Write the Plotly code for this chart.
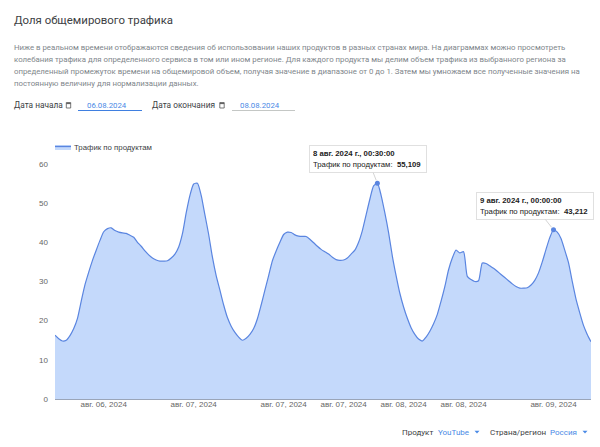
import pandas as pd
import plotly.graph_objects as go

START = "2024-08-06 05:30"
traffic = [
    16.3, 15.4, 14.8, 15.0, 16.2, 18.0, 20.6, 25.0, 29.2, 32.4, 35.4, 38.0, 40.5, 42.7, 43.5, 43.7,
    43.0, 42.6, 42.4, 42.3, 41.8, 41.3, 40.0, 39.0, 37.8, 36.8, 36.0, 35.5, 35.2, 35.2, 35.3, 36.0,
    37.0, 38.8, 42.2, 47.5, 52.0, 54.9, 55.1, 52.0, 47.0, 42.0, 36.2, 31.5, 27.8, 24.0, 20.8, 18.6,
    17.0, 15.8, 15.0, 15.5, 16.5, 18.0, 20.5, 24.0, 27.8, 31.5, 35.3, 37.8, 40.0, 42.0, 42.6, 42.5,
    41.9, 41.6, 41.5, 41.5, 40.8, 39.9, 39.0, 38.2, 37.6, 37.0, 36.2, 35.6, 35.4, 35.5, 36.0, 37.0,
    38.0, 40.0, 43.0, 47.0, 51.0, 54.4, 55.109, 52.0, 47.5, 42.5, 36.5, 31.5, 27.0, 23.5, 20.6, 18.2,
    16.5, 15.3, 14.8, 15.8, 17.3, 19.2, 21.6, 25.0, 28.7, 33.0, 36.0, 38.0, 37.3, 37.6, 31.3, 30.5,
    30.0, 30.2, 34.7, 34.6, 34.0, 33.4, 32.6, 31.8, 31.0, 30.2, 29.4, 28.7, 28.3, 28.3, 28.4, 29.1,
    30.3, 32.2, 35.0, 38.2, 41.2, 43.212, 42.6, 41.0, 38.0, 34.8, 30.0, 25.5, 22.0, 18.8, 16.5, 14.6,
]
times = pd.date_range(START, periods=len(traffic), freq="30min")

tick_times = ["2024-08-06 12:00", "2024-08-07 00:00", "2024-08-07 12:00", "2024-08-07 20:00",
              "2024-08-08 04:00", "2024-08-08 12:00", "2024-08-09 00:00"]
tick_labels = ["авг. 06, 2024", "авг. 07, 2024", "авг. 07, 2024", "авг. 07, 2024",
               "авг. 08, 2024", "авг. 08, 2024", "авг. 09, 2024"]
y_ticks = [0, 10, 20, 30, 40, 50, 60]
series_name = "Трафик по продуктам"
highlight_idx = [86, 133]
highlight_titles = ["8 авг. 2024 г., 00:30:00", "9 авг. 2024 г., 00:00:00"]
highlight_offsets = [(-9.5, -24), (-19, -24)]

title = "Доля общемирового трафика"
body_lines = [
    "Ниже в реальном времени отображаются сведения об использовании наших продуктов в разных странах мира. На диаграммах можно просмотреть",
    "колебания трафика для определенного сервиса в том или ином регионе. Для каждого продукта мы делим объем трафика из выбранного региона за",
    "определенный промежуток времени на общемировой объем, получая значение в диапазоне от 0 до 1. Затем мы умножаем все полученные значения на",
    "постоянную величину для нормализации данных.",
]

W, H = 600, 447
L, R, T, B = 55, 591, 164, 399
LINE = "#5a85e0"
FILL = "#c4d9fb"
BLUE = "#4a8ae6"
DARK = "#3c4043"
GRAY = "#80868b"
ROBOTO = "Roboto, sans-serif"
ARIAL = "Liberation Sans, Arial, sans-serif"


def px(X):
    return (X - L) / (R - L)


def py(Y):
    return (B - Y) / (B - T)


fig = go.Figure()
fig.add_trace(go.Scatter(x=times, y=traffic, mode="lines", fill="tozeroy", fillcolor=FILL,
                         line=dict(color=LINE, width=1.2, shape="spline", smoothing=0.6),
                         name=series_name, showlegend=False))
fig.add_trace(go.Scatter(x=[times[i] for i in highlight_idx], y=[traffic[i] for i in highlight_idx],
                         mode="markers", marker=dict(color=LINE, size=5), showlegend=False))

annotations = []


def label(X, Y, text, size, color, font=ROBOTO, anchor="left"):
    annotations.append(dict(x=px(X - 2 if anchor == "left" else X), y=py(Y), xref="paper", yref="paper",
                            text=text, showarrow=False, xanchor=anchor, yanchor="middle", align=anchor,
                            font=dict(family=font, size=size, color=color)))


label(14, 20, title, 11.4, DARK)
for Y, line in zip([48, 59.5, 71, 83], body_lines):
    label(14, Y, line, 7.82, GRAY)
label(14, 105, "Дата начала", 8.3, DARK)
label(107, 105, "06.08.2024", 7.8, BLUE, anchor="center")
label(152, 105, "Дата окончания", 8.3, DARK)
label(260, 105, "08.08.2024", 7.8, BLUE, anchor="center")
label(74, 147, series_name, 7.8, DARK, ARIAL)
label(402, 432, "Продукт", 8.0, DARK)
label(438, 432, "YouTube", 8.0, BLUE)
label(490, 432, "Страна/регион", 8.0, DARK)
label(550, 432, "Россия", 8.0, BLUE)

for i, head, (ax, ay) in zip(highlight_idx, highlight_titles, highlight_offsets):
    value = f"{traffic[i]:.3f}".replace(".", ",")
    text = f"<b>{head}</b><br>{series_name}:  <b>{value}</b>"
    annotations.append(dict(x=times[i], y=traffic[i], xref="x", yref="y", ax=ax, ay=ay, text=text,
                            showarrow=True, arrowhead=0, arrowcolor="#d5d5d5", arrowwidth=1, standoff=3,
                            bgcolor="white", bordercolor="#e0e0e0", borderwidth=1, borderpad=3,
                            width=110, height=20, align="left",
                            font=dict(family=ARIAL, size=7.75, color="#222222")))

shapes = []


def line_shape(x0, y0, x1, y1, color, width=1):
    shapes.append(dict(type="line", xref="paper", yref="paper", x0=px(x0), y0=py(y0), x1=px(x1), y1=py(y1),
                       line=dict(color=color, width=width)))


def rect_shape(x0, y0, x1, y1, fill, color=None, width=0):
    shapes.append(dict(type="rect", xref="paper", yref="paper", x0=px(x0), y0=py(y0), x1=px(x1), y1=py(y1),
                       fillcolor=fill, line=dict(color=color or fill, width=width)))


def triangle(cx, cy):
    shapes.append(dict(type="path", xref="paper", yref="paper", fillcolor=BLUE, line=dict(width=0),
                       path=f"M {px(cx - 2.5)} {py(cy - 1.2)} L {px(cx + 2.5)} {py(cy - 1.2)} L {px(cx)} {py(cy + 1.5)} Z"))


rect_shape(55, 145, 71, 150, FILL)
line_shape(55, 146.5, 71, 146.5, LINE, 1.3)
line_shape(78, 110.5, 142, 110.5, "#3f7fe0", 1.2)
line_shape(232, 110.5, 295, 110.5, "#c4c7c5", 1)
for cx in [68.5, 222]:
    rect_shape(cx - 2.2, 102.5, cx + 2.2, 108, "white", "#555555", 0.8)
    line_shape(cx - 2.2, 103.6, cx + 2.2, 103.6, "#555555", 1)
triangle(477, 432)
triangle(585, 432)

fig.update_layout(
    width=W, height=H, autosize=False,
    margin=dict(l=L, r=W - R, t=T, b=H - B, pad=0),
    paper_bgcolor="white", plot_bgcolor="white", showlegend=False,
    annotations=annotations, shapes=shapes,
    xaxis=dict(type="date", range=[times[0], times[-1]], tickmode="array", tickvals=tick_times,
               ticktext=tick_labels, ticks="", showgrid=False, zeroline=False, showline=True,
               linecolor="#9aa5b8", linewidth=1, ticklabelstandoff=-3,
               tickfont=dict(family=ARIAL, size=8.0, color="#666666")),
    yaxis=dict(range=[0, 60], tickmode="array", tickvals=y_ticks, ticks="", showgrid=False, zeroline=False,
               showline=False, ticklabelstandoff=6,
               tickfont=dict(family=ARIAL, size=8.0, color="#666666")),
)

fig.write_html("out.html", config={"displayModeBar": False},
               post_script="document.body.style.margin='0';document.body.style.overflow='hidden';")
